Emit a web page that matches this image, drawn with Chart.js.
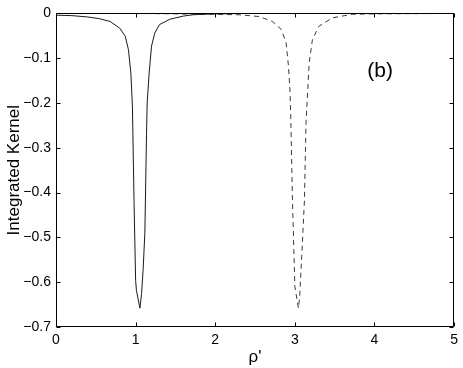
<!DOCTYPE html>
<html>
<head>
<meta charset="utf-8">
<script src="https://cdn.jsdelivr.net/npm/chart.js@4"></script>
<style>
  html, body { margin: 0; padding: 0; background: #fff; }
  #wrap { width: 463px; height: 368px; position: relative; }
</style>
</head>
<body>
<div id="wrap"><canvas id="kernel"></canvas></div>
<script>
'use strict';

// ── Data ──────────────────────────────────────────────────
const SOLID_X = [0, 0.2, 0.4, 0.55, 0.68, 0.8, 0.87, 0.91, 0.94, 0.96, 0.98, 1.0, 1.01, 1.054,
                 1.075, 1.095, 1.116, 1.137, 1.145, 1.17, 1.2, 1.24, 1.3, 1.43, 1.6, 1.72, 2.0, 2.5, 3, 4, 5];
const SOLID_Y = [-0.004, -0.005, -0.008, -0.012, -0.018, -0.033, -0.051, -0.081, -0.133, -0.207, -0.418, -0.596, -0.618, -0.658,
                 -0.625, -0.57, -0.49, -0.27, -0.2, -0.133, -0.073, -0.044, -0.025, -0.013, -0.006, -0.003, -0.001, 0, 0, 0, 0];

const DASH_X = [0, 1, 1.5, 2, 2.3, 2.55, 2.72, 2.83, 2.89, 2.92, 2.94, 2.95, 2.97, 3.0, 3.045,
                3.06, 3.09, 3.12, 3.14, 3.16, 3.18, 3.22, 3.3, 3.47, 3.72, 4, 5];
const DASH_Y = [0, 0, -0.001, -0.002, -0.003, -0.007, -0.018, -0.036, -0.066, -0.118, -0.177, -0.244, -0.418, -0.61, -0.658,
                -0.633, -0.529, -0.418, -0.244, -0.177, -0.11, -0.059, -0.029, -0.01, -0.002, -0.001, 0];

const X_TICKS = [0, 1, 2, 3, 4, 5];
const Y_TICKS = [0, -0.1, -0.2, -0.3, -0.4, -0.5, -0.6, -0.7];

const X_LABEL = "ρ'";
const Y_LABEL = 'Integrated Kernel';
const PANEL_TAG = '(b)';

// ── Styles ────────────────────────────────────────────────
const FAMILY = "'Liberation Sans', Arial, Helvetica, sans-serif";
const INK = '#000';
const TICK_LEN = 4;

const pts = (xs, ys) => xs.map((x, i) => ({ x, y: ys[i] }));
const fmtY = v => {
  const r = Math.round(v * 10) / 10;
  return r === 0 ? '0' : '\u2212' + Math.abs(r).toFixed(1);
};

// ── Matlab-like box with inward ticks + panel tag ─────────
const boxPlugin = {
  id: 'box',
  afterDatasetsDraw(chart) {
    const { ctx, chartArea: a, scales: { x, y } } = chart;
    const L = Math.round(a.left) + 0.5, R = Math.round(a.right) - 0.5;
    const T = Math.round(a.top) + 0.5, B = Math.round(a.bottom) - 0.5;
    ctx.save();
    ctx.strokeStyle = INK;
    ctx.lineWidth = 1;
    ctx.beginPath();
    ctx.rect(L, T, R - L, B - T);
    X_TICKS.forEach(v => {
      const px = Math.round(x.getPixelForValue(v)) + 0.5;
      ctx.moveTo(px, B); ctx.lineTo(px, B - TICK_LEN);
      ctx.moveTo(px, T); ctx.lineTo(px, T + TICK_LEN);
    });
    Y_TICKS.forEach(v => {
      const py = Math.round(y.getPixelForValue(v)) + 0.5;
      ctx.moveTo(L, py); ctx.lineTo(L + TICK_LEN, py);
      ctx.moveTo(R, py); ctx.lineTo(R - TICK_LEN, py);
    });
    ctx.stroke();

    ctx.fillStyle = INK;
    ctx.font = `21px ${FAMILY}`;
    ctx.textAlign = 'center';
    ctx.textBaseline = 'middle';
    ctx.fillText(PANEL_TAG, x.getPixelForValue(4.07), y.getPixelForValue(-0.128));
    ctx.restore();
  }
};

// ── Chart ─────────────────────────────────────────────────
new Chart(document.getElementById('kernel'), {
  type: 'line',
  data: {
    datasets: [
      {
        data: pts(SOLID_X, SOLID_Y),
        borderColor: '#1a1a1a',
        borderWidth: 1,
        pointRadius: 0,
        tension: 0,
        fill: false,
      },
      {
        data: pts(DASH_X, DASH_Y),
        borderColor: '#3a3a3a',
        borderWidth: 1,
        borderDash: [5, 4],
        pointRadius: 0,
        tension: 0,
        fill: false,
      }
    ]
  },
  options: {
    responsive: true, maintainAspectRatio: false,
    animation: false,
    layout: { padding: { top: 12, right: 8, left: 0, bottom: 0 } },
    plugins: { legend: { display: false }, tooltip: { enabled: false } },
    scales: {
      x: {
        type: 'linear', min: 0, max: 5,
        grid: { display: false, drawTicks: false },
        border: { display: false },
        ticks: {
          stepSize: 1, autoSkip: false, padding: 5, maxRotation: 0,
          color: INK, font: { family: FAMILY, size: 14 },
        },
        title: {
          display: true, text: X_LABEL, color: INK,
          font: { family: FAMILY, size: 17 }, padding: { top: 0, bottom: 0 },
        },
        afterFit: s => { s.height = 41; },
      },
      y: {
        type: 'linear', min: -0.7, max: 0,
        grid: { display: false, drawTicks: false },
        border: { display: false },
        ticks: {
          stepSize: 0.1, autoSkip: false, padding: 5,
          color: INK, font: { family: FAMILY, size: 14 },
          callback: v => fmtY(v),
        },
        title: {
          display: true, text: Y_LABEL, color: INK,
          font: { family: FAMILY, size: 17 }, padding: { top: 4, bottom: 0 },
        },
        afterFit: s => { s.width = 56; },
      }
    }
  },
  plugins: [boxPlugin]
});
</script>
</body>
</html>
